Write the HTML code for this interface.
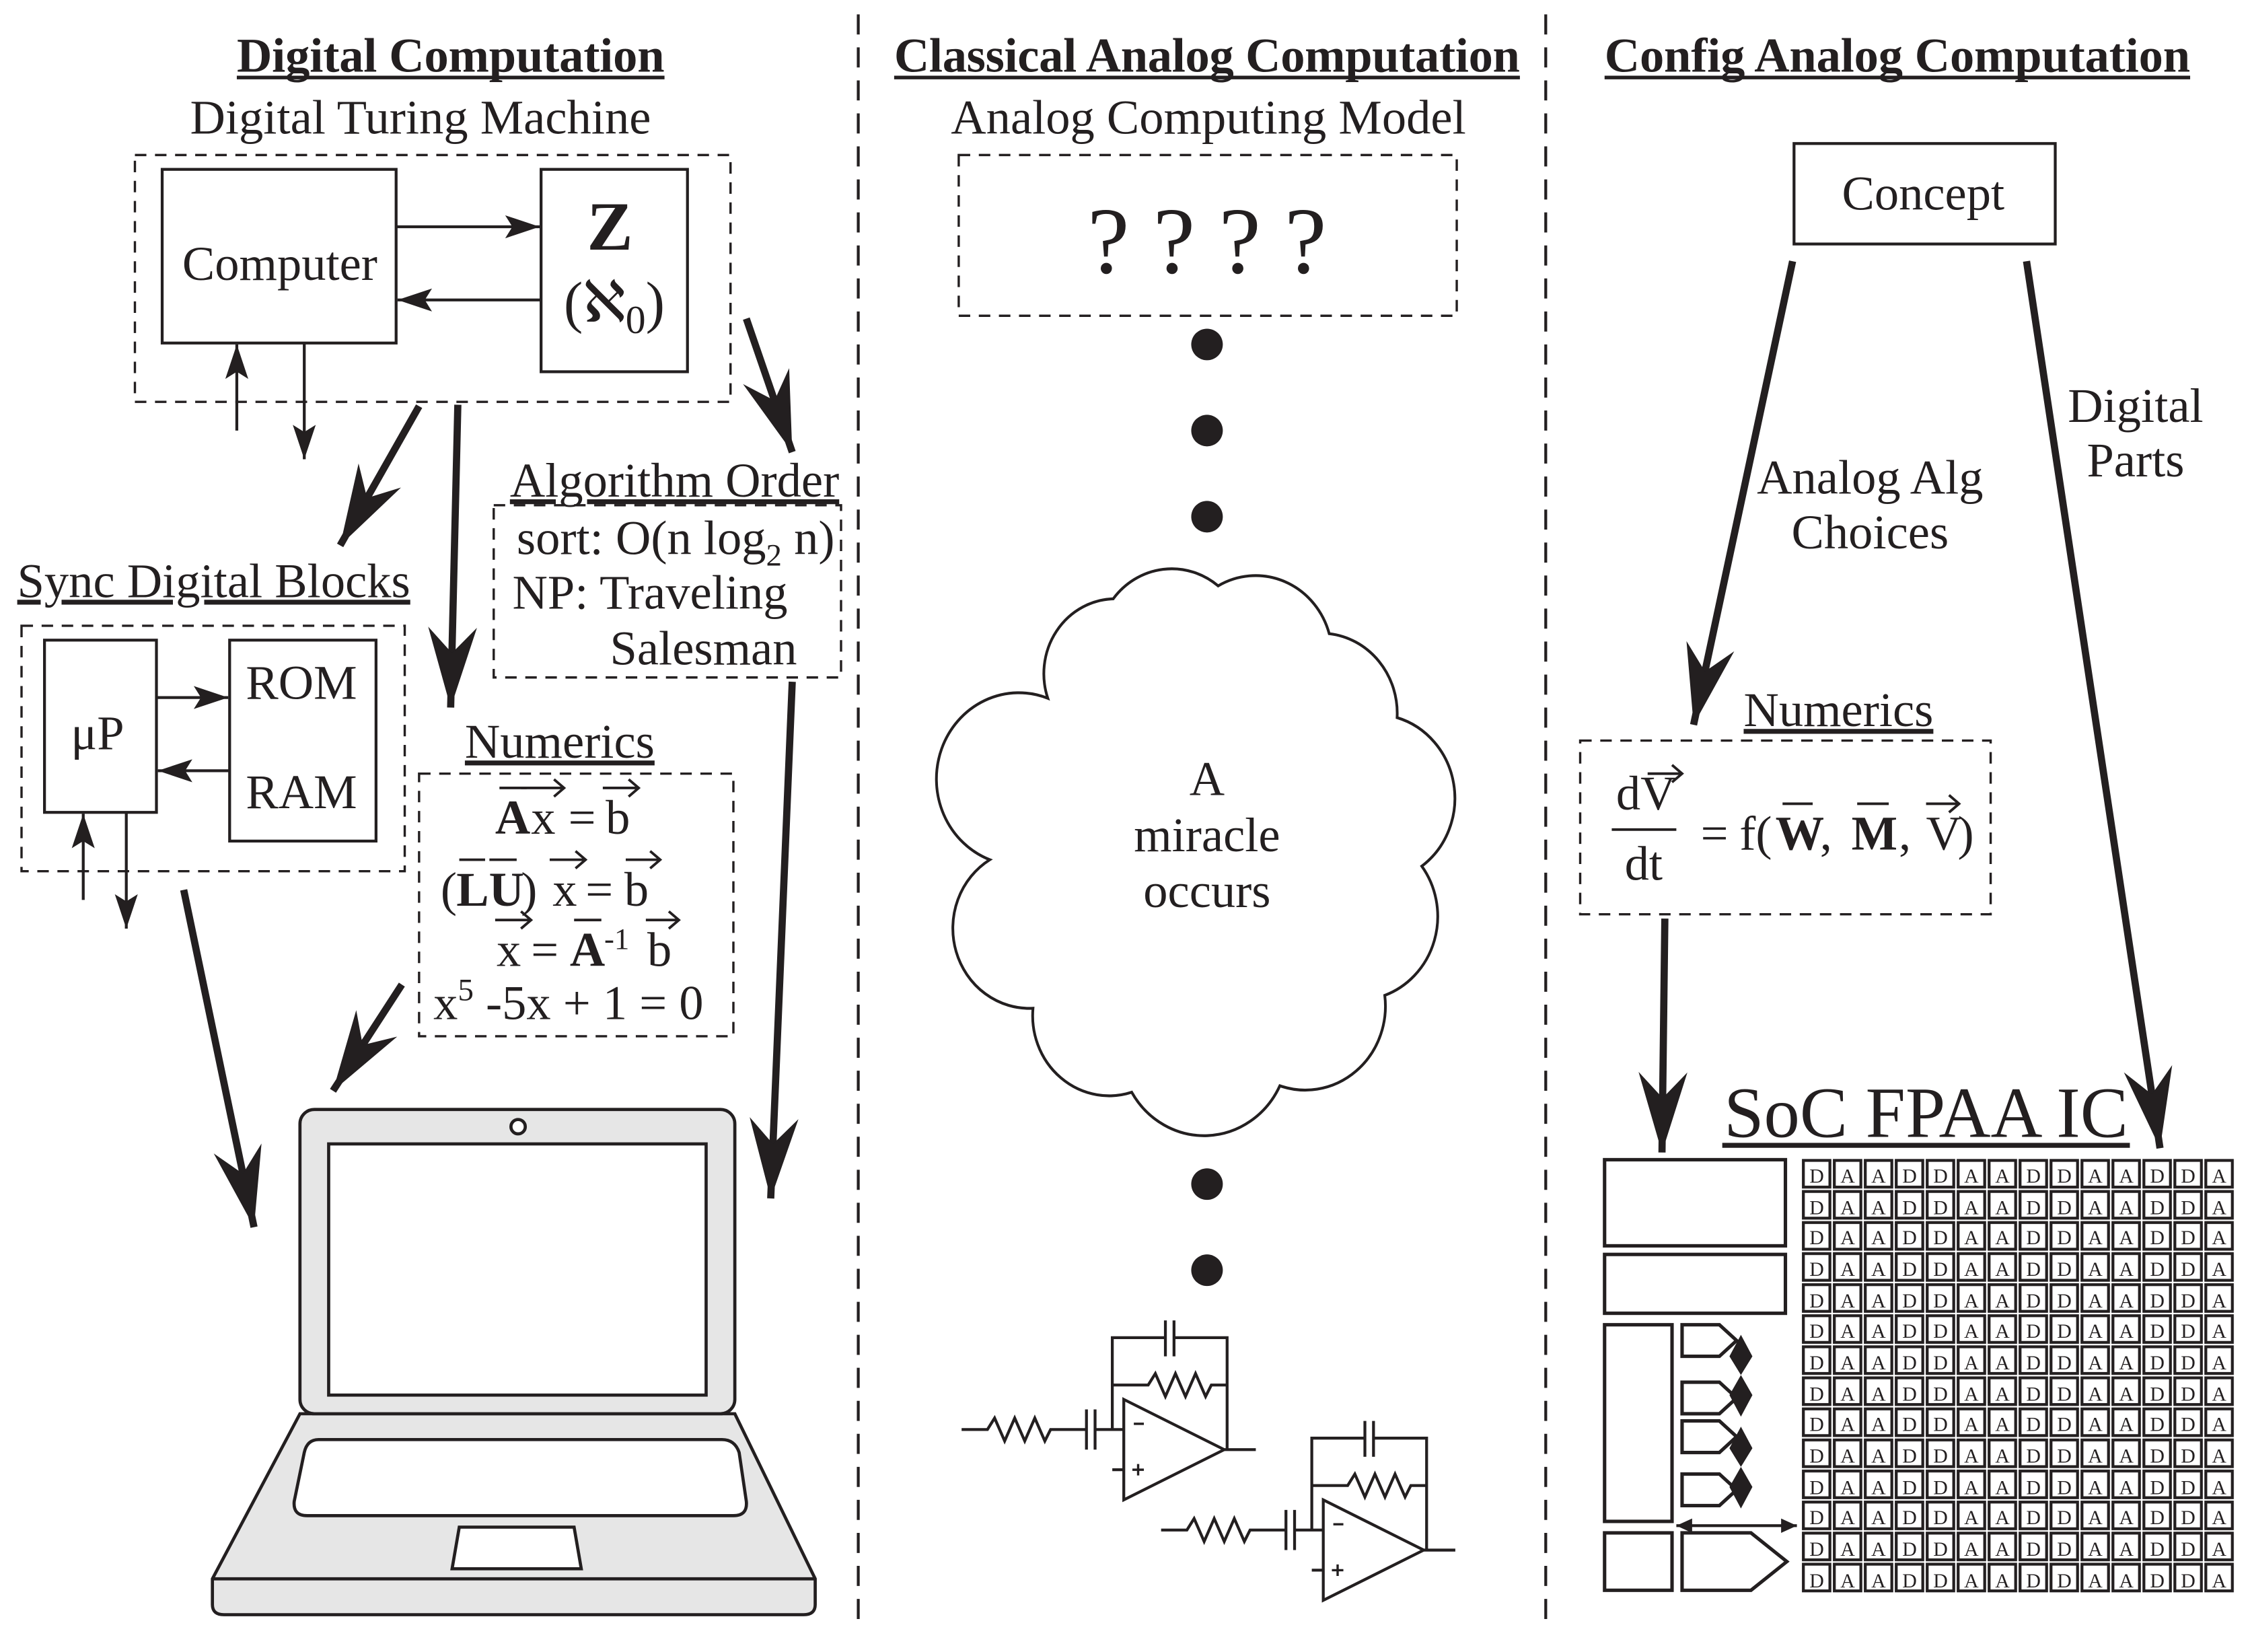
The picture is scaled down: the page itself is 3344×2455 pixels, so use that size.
<!DOCTYPE html>
<html><head><meta charset="utf-8"><style>
html,body{margin:0;padding:0;background:#fff;}
svg{display:block;}
text{font-family:"Liberation Serif",serif;fill:#231f20;}
</style></head><body>
<svg width="3344" height="2455" viewBox="0 0 1567.7 1151" preserveAspectRatio="none" xmlns="http://www.w3.org/2000/svg">
<defs>
<marker id="big" markerUnits="userSpaceOnUse" markerWidth="70" markerHeight="44" viewBox="-60 -22 66 44" refX="0" refY="0" orient="auto">
<path d="M0,0 L-56,-17 L-38,0 L-56,17 Z" fill="#231f20"/>
</marker>
<marker id="sm" markerUnits="userSpaceOnUse" markerWidth="30" markerHeight="20" viewBox="-25 -10 30 20" refX="0" refY="0" orient="auto">
<path d="M0,0 L-24,-8 L-19,0 L-24,8 Z" fill="#231f20"/>
</marker>
<marker id="tiny" markerUnits="userSpaceOnUse" markerWidth="20" markerHeight="12" viewBox="-12 -6 14 12" refX="0" refY="0" orient="auto-start-reverse">
<path d="M0,0 L-11,-5 L-11,5 Z" fill="#231f20"/>
</marker>
<pattern id="cell" x="1255" y="807" width="21.57" height="21.64" patternUnits="userSpaceOnUse">
<rect x="1.5" y="1.5" width="18.5" height="18.6" fill="#fff" stroke="#231f20" stroke-width="2"/>
</pattern>
<g id="circ" fill="none" stroke="#231f20" stroke-width="2">
<path d="M670,996 H688 L693,988 L700,1004 L707,988 L714,1004 L721,988 L728,1004 L732,996 H757 M763,996 H783"/>
<path d="M757,982 V1010 M763,982 V1010"/>
<path d="M783,975 L853,1010 L783,1045 Z"/>
<path d="M853,1010 H875 M775,1024 H783"/>
<path d="M775,996 V932 H812 M818,932 H855 V1010"/>
<path d="M812,920 V945 M818,920 V945"/>
<path d="M775,965 H800 L805,957 L812,973 L819,957 L826,973 L833,957 L840,973 L844,965 H855"/>
<path d="M790,992 H797 M789,1024 H797 M793,1020 V1028" stroke-width="1.6"/>
</g>
<g id="row" font-size="14" text-anchor="middle"><text x="1265.8 1287.4 1308.9 1330.5 1352.1 1373.6 1395.2 1416.8 1438.3 1459.9 1481.5 1503.1 1524.6 1546.2" y="0">DAADDAADDAADDA</text></g>
</defs>
<rect width="1567.7" height="1151" fill="#fff"/>
<g stroke="#231f20" stroke-width="2" stroke-dasharray="14,9" fill="none">
<line x1="598" y1="10" x2="598" y2="1135"/>
<line x1="1077" y1="10" x2="1077" y2="1135"/>
</g>
<!-- titles -->
<g font-weight="bold" font-size="34" text-anchor="middle">
<text x="314" y="50" textLength="298">Digital Computation</text>
<text x="841" y="50" textLength="436">Classical Analog Computation</text>
<text x="1322" y="50" textLength="408">Config Analog Computation</text>
</g>
<g stroke="#231f20" stroke-width="2.5">
<line x1="165" y1="54" x2="463" y2="54"/>
<line x1="623" y1="54" x2="1059" y2="54"/>
<line x1="1118" y1="54" x2="1526" y2="54"/>
</g>
<text x="293" y="93" font-size="34" text-anchor="middle">Digital Turing Machine</text>
<text x="842" y="93" font-size="34" text-anchor="middle">Analog Computing Model</text>

<g fill="none" stroke="#231f20" stroke-width="1.6" stroke-dasharray="8,6">
<rect x="94" y="108" width="415" height="172"/>
<rect x="344" y="352" width="242" height="120"/>
<rect x="15" y="436" width="267" height="171"/>
<rect x="292" y="539" width="219" height="183"/>
<rect x="668" y="108" width="347" height="112"/>
<rect x="1101" y="516" width="286" height="121"/>
</g>
<g fill="#fff" stroke="#231f20" stroke-width="2">
<rect x="113" y="118" width="163" height="121"/>
<rect x="377" y="118" width="102" height="141"/>
<rect x="31" y="446" width="78" height="120"/>
<rect x="160" y="446" width="102" height="140"/>
</g>
<text x="195" y="195" font-size="34" text-anchor="middle">Computer</text>
<text x="425" y="174" font-size="48" font-weight="bold" text-anchor="middle">Z</text>
<text x="428" y="224" font-size="40" text-anchor="middle">(ℵ<tspan font-size="28" dy="8">0</tspan><tspan dy="-8">)</tspan></text>
<text x="68" y="522" font-size="34" text-anchor="middle">μP</text>
<text x="210" y="487" font-size="34" text-anchor="middle">ROM</text>
<text x="210" y="563" font-size="34" text-anchor="middle">RAM</text>
<g stroke="#231f20" stroke-width="2" fill="none">
<line x1="276" y1="158" x2="376" y2="158" marker-end="url(#sm)"/>
<line x1="377" y1="209" x2="277" y2="209" marker-end="url(#sm)"/>
<line x1="165" y1="300" x2="165" y2="240" marker-end="url(#sm)"/>
<line x1="212" y1="239" x2="212" y2="320" marker-end="url(#sm)"/>
<line x1="109" y1="486" x2="159" y2="486" marker-end="url(#sm)"/>
<line x1="160" y1="537" x2="110" y2="537" marker-end="url(#sm)"/>
<line x1="58" y1="627" x2="58" y2="567" marker-end="url(#sm)"/>
<line x1="88" y1="566" x2="88" y2="647" marker-end="url(#sm)"/>
</g>
<g stroke="#231f20" stroke-width="5" fill="none">
<line x1="292" y1="283" x2="237" y2="380" marker-end="url(#big)"/>
<line x1="319" y1="282" x2="314" y2="493" marker-end="url(#big)"/>
<line x1="520" y1="222" x2="552" y2="315" marker-end="url(#big)"/>
<line x1="128" y1="620" x2="177" y2="855" marker-end="url(#big)"/>
<line x1="280" y1="686" x2="232" y2="760" marker-end="url(#big)"/>
<line x1="552" y1="475" x2="537" y2="835" marker-end="url(#big)"/>
<line x1="1249" y1="182" x2="1180" y2="505" marker-end="url(#big)"/>
<line x1="1412" y1="182" x2="1505" y2="800" marker-end="url(#big)"/>
<line x1="1160" y1="640" x2="1158" y2="803" marker-end="url(#big)"/>
</g>
<g font-size="34">
<text x="470" y="346" text-anchor="middle" text-decoration="underline">Algorithm Order</text>
<text x="360" y="386">sort: O(n log<tspan font-size="22" dy="8">2</tspan><tspan dy="-8"> n)</tspan></text>
<text x="357" y="424">NP: Traveling</text>
<text x="425" y="463">Salesman</text>
<text x="12" y="416" text-decoration="underline">Sync Digital Blocks</text>
<text x="390" y="528" text-anchor="middle" text-decoration="underline">Numerics</text>
<!-- eq 1 -->
<text x="345" y="581" font-weight="bold">A</text>
<text x="370" y="581">x</text>
<text x="396" y="581">=</text>
<text x="422" y="581">b</text>
<!-- eq 2 -->
<text x="307" y="631">(</text>
<text x="318" y="631" font-weight="bold">LU</text>
<text x="363" y="631">)</text>
<text x="385" y="631">x</text>
<text x="408" y="631">=</text>
<text x="435" y="631">b</text>
<!-- eq 3 -->
<text x="346" y="673">x</text>
<text x="370" y="673">=</text>
<text x="397" y="673" font-weight="bold">A</text>
<text x="421" y="661" font-size="21">-1</text>
<text x="451" y="673">b</text>
<text x="302" y="710">x<tspan font-size="22" dy="-13">5</tspan><tspan dy="13"> -5x + 1 = 0</tspan></text>
</g>
<g stroke="#231f20" stroke-width="1.8" fill="none">
<line x1="348" y1="549" x2="367" y2="549"/>
<path d="M363,549 H393 M386,543 L393,549 L386,555"/>
<path d="M420,549 H445 M438,543 L445,549 L438,555"/>
<line x1="320" y1="599" x2="338" y2="599"/>
<line x1="341" y1="599" x2="360" y2="599"/>
<path d="M383,599 H408 M401,593 L408,599 L401,605"/>
<path d="M436,599 H460 M453,593 L460,599 L453,605"/>
<path d="M345,641 H370 M363,635 L370,641 L363,647"/>
<line x1="400" y1="641" x2="419" y2="641"/>
<path d="M450,641 H473 M466,635 L473,641 L466,647"/>
</g>
<!-- laptop -->
<g stroke="#231f20" stroke-width="2.2">
<path d="M148,1100 L209,985 H512 L568,1100 V1118 Q568,1125 560,1125 H156 Q148,1125 148,1118 Z" fill="#e6e6e6"/>
<line x1="148" y1="1100" x2="568" y2="1100"/>
<rect x="209" y="773" width="303" height="212" rx="10" fill="#e6e6e6"/>
<rect x="229" y="797" width="263" height="175" fill="#fff"/>
<circle cx="361" cy="785" r="5" fill="#fff"/>
<path d="M222,1003 H503 Q512,1003 515,1012 L520,1046 Q521,1056 511,1056 H214 Q204,1056 205,1046 L212,1012 Q214,1003 222,1003 Z" fill="#fff"/>
<path d="M320,1064 H400 L405,1093 H315 Z" fill="#fff"/>
</g>
<!-- middle -->
<text x="841" y="190" font-size="66" text-anchor="middle">? ? ? ?</text>
<g fill="#231f20">
<circle cx="841" cy="240" r="11"/><circle cx="841" cy="300" r="11"/><circle cx="841" cy="360" r="11"/>
<circle cx="841" cy="765" r="11"/><circle cx="841" cy="825" r="11"/><circle cx="841" cy="885" r="11"/>
</g>
<g transform="translate(841,590) scale(0.86,0.9) translate(-841,-590)">
<path d="M712,475 A58,58 0 0 1 765,398 A60,60 0 0 1 850,388 A62,62 0 0 1 940,425 A62,62 0 0 1 995,490 A65,65 0 0 1 1015,605 A65,65 0 0 1 985,705 A65,65 0 0 1 900,775 A68,68 0 0 1 780,780 A62,62 0 0 1 700,715 A62,62 0 0 1 665,600 A60,60 0 0 1 712,475 Z" fill="#fff" stroke="#231f20" stroke-width="2.2"/>
</g>
<g font-size="34" text-anchor="middle">
<text x="841" y="554">A</text>
<text x="841" y="593">miracle</text>
<text x="841" y="632">occurs</text>
</g>
<use href="#circ"/>
<use href="#circ" transform="translate(139,70)"/>
<!-- right -->
<rect x="1250" y="100" width="182" height="70" fill="#fff" stroke="#231f20" stroke-width="2"/>
<g font-size="34" text-anchor="middle">
<text x="1340" y="146">Concept</text>
<text x="1303" y="344">Analog Alg</text>
<text x="1303" y="382">Choices</text>
<text x="1488" y="294">Digital</text>
<text x="1488" y="332">Parts</text>
<text x="1281" y="506" text-decoration="underline">Numerics</text>
</g>
<g font-size="34">
<text x="1126" y="564">dV</text>
<text x="1132" y="613">dt</text>
<text x="1185" y="592">=</text>
<text x="1212" y="592">f(</text>
<text x="1237" y="592" font-weight="bold">W</text>
<text x="1268" y="592">,</text>
<text x="1290" y="592" font-weight="bold">M</text>
<text x="1323" y="592">,</text>
<text x="1342" y="592">V</text>
<text x="1364" y="592">)</text>
</g>
<g stroke="#231f20" stroke-width="1.8" fill="none">
<line x1="1123" y1="578" x2="1168" y2="578"/>
<path d="M1148,539 H1172 M1165,533 L1172,539 L1165,545"/>
<line x1="1242" y1="560" x2="1263" y2="560"/>
<line x1="1294" y1="560" x2="1316" y2="560"/>
<path d="M1342,560 H1365 M1358,554 L1365,560 L1358,566"/>
</g>
<text x="1342" y="792" font-size="50" text-anchor="middle">SoC FPAA IC</text>
<line x1="1200" y1="798" x2="1484" y2="798" stroke="#231f20" stroke-width="3.5"/>
<g fill="#fff" stroke="#231f20" stroke-width="2.4">
<rect x="1118" y="808" width="126" height="60"/>
<rect x="1118" y="874" width="126" height="41"/>
<rect x="1118" y="923" width="47" height="137"/>
<rect x="1118" y="1068" width="47" height="40"/>
<path d="M1172,1068 H1220 L1245,1088 L1220,1108 H1172 Z"/>
<path d="M1172,923 H1198 L1210,934 L1198,945 H1172 Z"/>
<path d="M1172,963 H1198 L1210,974 L1198,985 H1172 Z"/>
<path d="M1172,990 H1198 L1210,1001 L1198,1012 H1172 Z"/>
<path d="M1172,1027 H1198 L1210,1038 L1198,1049 H1172 Z"/>
</g>
<g fill="#231f20">
<path d="M1213,930 L1221,945 L1213,958 L1221,972 L1213,987 L1205,972 L1213,958 L1205,945 Z"/>
<path d="M1213,994 L1221,1009 L1213,1022 L1221,1036 L1213,1051 L1205,1036 L1213,1022 L1205,1009 Z"/>
</g>
<line x1="1168" y1="1063" x2="1252" y2="1063" stroke="#231f20" stroke-width="2" marker-start="url(#tiny)" marker-end="url(#tiny)"/>
<rect x="1255" y="807" width="302" height="303" fill="url(#cell)"/>
<use href="#row" y="824"/>
<use href="#row" y="846"/>
<use href="#row" y="867"/>
<use href="#row" y="889"/>
<use href="#row" y="911"/>
<use href="#row" y="932"/>
<use href="#row" y="954"/>
<use href="#row" y="976"/>
<use href="#row" y="997"/>
<use href="#row" y="1019"/>
<use href="#row" y="1041"/>
<use href="#row" y="1062"/>
<use href="#row" y="1084"/>
<use href="#row" y="1106"/>
</svg>
</body></html>
